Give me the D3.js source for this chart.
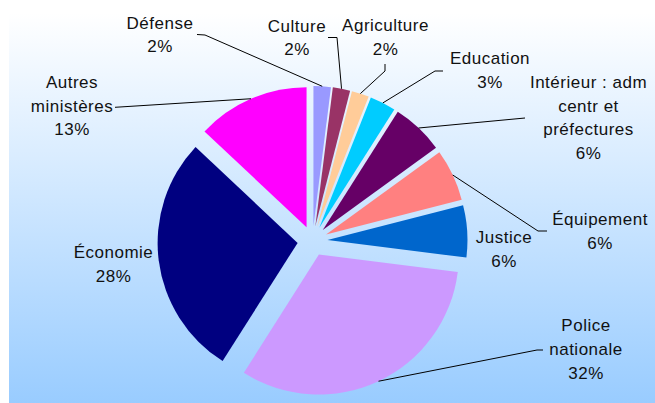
<!DOCTYPE html>
<html lang="fr">
<head>
<meta charset="UTF-8">
<title>Répartition par ministère</title>
<script src="https://d3js.org/d3.v7.min.js"></script>
<style>
  body { margin: 0; background: #fff; }
  svg { display: block; }
  .lbl { font-family: "Liberation Sans", Arial, sans-serif; font-size: 17px; letter-spacing: 0.5px; fill: #111; }
  .leader { fill: none; stroke: #000; stroke-width: 1; }
</style>
</head>
<body>
<svg id="chart" width="655" height="403"></svg>
<script>
// data, clockwise from 12 o'clock
const categories = ["Défense", "Culture", "Agriculture", "Education", "Intérieur : adm centr et préfectures",
                    "Équipement", "Justice", "Police nationale", "Économie", "Autres ministères"];
const shares = [2, 2, 2, 3, 6, 6, 6, 32, 28, 13];
const labelLines = [["Défense"], ["Culture"], ["Agriculture"], ["Education"],
                    ["Intérieur : adm", "centr et", "préfectures"], ["Équipement"], ["Justice"],
                    ["Police", "nationale"], ["Économie"], ["Autres", "ministères"]];
const colors = ["#9999ff", "#993366", "#ffcc99", "#00ccff", "#660066",
                "#ff8080", "#0066cc", "#cc99ff", "#000080", "#ff00ff"];

// layout: label anchor (centre x, first baseline) and the label-side points of each leader line
const labelPos = [[160, 28.5], [297, 31.5], [385.5, 31], [490, 64.3], [588.5, 87.7],
                  [600, 225], [504, 243.3], [586, 331], [113.5, 257.7], [72, 87.7]];
const leaderPts = [[[197, 34.5], [205, 35]], [[328, 37.5], [337, 37.5]], [[385, 64], [385, 71]],
                   [[443, 71], [435, 71]], [[525, 118]], [[547, 231], [538, 231]], null,
                   [[543, 350], [537, 350]], null, [[115, 107.3]]];

const width = 655, height = 403;
const cx = 312.5, cy = 241, R = 140, explode = 15, lineH = 23.8;

const svg = d3.select("#chart");

const grad = svg.append("defs").append("linearGradient")
  .attr("id", "bg").attr("x1", 0).attr("y1", 0).attr("x2", 0).attr("y2", 1);
grad.append("stop").attr("offset", "0%").attr("stop-color", "#ffffff");
grad.append("stop").attr("offset", "100%").attr("stop-color", "#99ccff");

svg.append("rect")
  .attr("x", 9).attr("y", 13).attr("width", width - 9).attr("height", height - 13)
  .attr("fill", "url(#bg)");

const pie = d3.pie().sort(null).value(d => d);
const arc = d3.arc().innerRadius(0).outerRadius(R);
const arcs = pie(shares);

const mid = d => (d.startAngle + d.endAngle) / 2;
const off = d => [Math.sin(mid(d)) * explode, -Math.cos(mid(d)) * explode];

const g = svg.append("g").attr("transform", `translate(${cx},${cy})`);

g.selectAll("path.slice")
  .data(arcs)
  .join("path")
  .attr("class", "slice")
  .attr("d", arc)
  .attr("fill", (d, i) => colors[i])
  .attr("transform", d => `translate(${off(d)})`);

// leader lines: from the label to the middle of the slice's outer arc
arcs.forEach((d, i) => {
  if (!leaderPts[i]) return;
  const o = off(d), a = mid(d);
  const end = [cx + o[0] + Math.sin(a) * R, cy + o[1] - Math.cos(a) * R];
  svg.append("path")
    .attr("class", "leader")
    .attr("d", d3.line()([...leaderPts[i], end]));
});

// labels
categories.forEach((c, i) => {
  const lines = [...labelLines[i], shares[i] + "%"];
  const t = svg.append("text")
    .attr("class", "lbl")
    .attr("text-anchor", "middle");
  lines.forEach((s, k) => {
    t.append("tspan")
      .attr("x", labelPos[i][0])
      .attr("y", labelPos[i][1] + k * lineH)
      .text(s);
  });
});
</script>
</body>
</html>
